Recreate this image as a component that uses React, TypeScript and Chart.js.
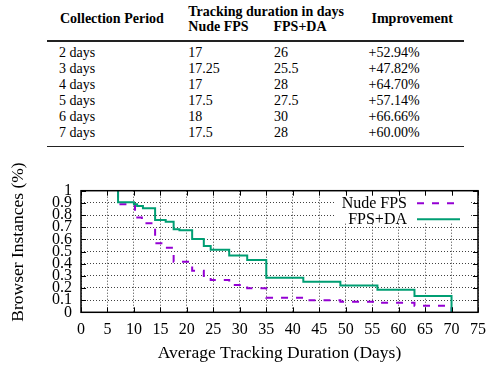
import React, { useEffect, useRef } from "react";
import { Chart, registerables } from "chart.js";

Chart.register(...registerables);

// ---- Table data ----
const periods = ["2 days", "3 days", "4 days", "5 days", "6 days", "7 days"];
const nudeFpsDays = ["17", "17.25", "17", "17.5", "18", "17.5"];
const fpsDaDays = ["26", "25.5", "28", "27.5", "30", "28"];
const improvements = ["+52.94%", "+47.82%", "+64.70%", "+57.14%", "+66.66%", "+60.00%"];

// ---- Chart data (step drop day, value after drop) ----
const daDays = [7, 7, 10, 10.6, 11.7, 14, 16, 17.5, 18.6, 21, 23.2, 24.5, 28, 31.4, 35, 42, 49, 56, 63, 70];
const daValues = [1, 0.905, 0.888, 0.874, 0.855, 0.759, 0.745, 0.683, 0.674, 0.603, 0.545, 0.515, 0.467, 0.43, 0.285, 0.252, 0.22, 0.186, 0.134, 0];
const nudeDays = [7, 7, 10.2, 11.5, 14, 15.8, 17.5, 21, 23.2, 24.5, 28, 31.4, 35, 42, 49, 56, 63, 70];
const nudeValues = [1, 0.888, 0.78, 0.732, 0.567, 0.53, 0.416, 0.342, 0.288, 0.266, 0.225, 0.197, 0.12, 0.099, 0.087, 0.079, 0.054, 0];

const xTickLabels = ["0", "5", "10", "15", "20", "25", "30", "35", "40", "45", "50", "55", "60", "65", "70", "75"];
const yTickLabels = ["0", "0.1", "0.2", "0.3", "0.4", "0.5", "0.6", "0.7", "0.8", "0.9", "1"];

const seriesNames = ["Nude FPS", "FPS+DA"];
const xTitle = "Average Tracking Duration (Days)";
const yTitle = "Browser Instances (%)";

const FONT = "'Liberation Serif', 'Times New Roman', serif";
const PURPLE = "#9400d3";
const GREEN = "#009e73";

const decorPlugin = {
  id: "decor",
  afterDraw(chart: any) {
    const { ctx, chartArea } = chart;
    const { left, right, top, bottom } = chartArea;
    ctx.save();
    // legend box (opaque)
    ctx.fillStyle = "#fff";
    ctx.fillRect(335, top + 1, 135, 72 - top);
    // legend entries
    ctx.font = `16px ${FONT}`;
    ctx.textAlign = "right";
    ctx.textBaseline = "middle";
    ctx.fillStyle = "#000";
    const order = [1, 0]; // Nude FPS first, then FPS+DA
    const ys = [53.3, 69.3];
    order.forEach((di, i) => {
      const ds = chart.data.datasets[di];
      ctx.fillText(ds.label, 407, ys[i]);
      ctx.beginPath();
      ctx.strokeStyle = ds.borderColor;
      ctx.lineWidth = ds.borderWidth;
      ctx.setLineDash(ds.borderDash || []);
      ctx.moveTo(417, ys[i]);
      ctx.lineTo(460, ys[i]);
      ctx.stroke();
    });
    ctx.setLineDash([]);
    // frame
    ctx.strokeStyle = "#000";
    ctx.lineWidth = 1.5;
    ctx.strokeRect(left, top, right - left, bottom - top);
    // inward tick marks
    ctx.lineWidth = 1;
    const xs = chart.scales.x;
    const ysc = chart.scales.y;
    ctx.beginPath();
    xs.ticks.forEach((t: any) => {
      const px = Math.round(xs.getPixelForValue(t.value)) + 0.5;
      ctx.moveTo(px, bottom);
      ctx.lineTo(px, bottom - 5);
      ctx.moveTo(px, top);
      ctx.lineTo(px, top + 5);
    });
    ysc.ticks.forEach((t: any) => {
      const py = Math.round(ysc.getPixelForValue(t.value)) + 0.5;
      ctx.moveTo(left, py);
      ctx.lineTo(left + 5, py);
      ctx.moveTo(right, py);
      ctx.lineTo(right - 5, py);
    });
    ctx.stroke();
    // y axis title
    ctx.translate(18, 92);
    ctx.rotate(-Math.PI / 2);
    ctx.font = `17.5px ${FONT}`;
    ctx.textAlign = "center";
    ctx.textBaseline = "middle";
    ctx.fillText(yTitle, 0, 0);
    ctx.restore();
  },
};

function ChartPanel() {
  const ref = useRef<HTMLCanvasElement>(null);
  useEffect(() => {
    if (!ref.current) return;
    const chart = new Chart(ref.current, {
      type: "line",
      data: {
        datasets: [
          {
            label: seriesNames[1],
            data: daDays.map((d, i) => ({ x: d, y: daValues[i] })),
            borderColor: GREEN,
            borderWidth: 2,
            stepped: "before",
            pointRadius: 0,
            fill: false,
            order: 0,
          },
          {
            label: seriesNames[0],
            data: nudeDays.map((d, i) => ({ x: d, y: nudeValues[i] })),
            borderColor: PURPLE,
            borderWidth: 2,
            borderDash: [7, 8],
            stepped: "before",
            pointRadius: 0,
            fill: false,
            order: 1,
          },
        ],
      },
      options: {
        responsive: false,
        animation: false,
        layout: { padding: { top: 40.7, right: 14, left: 0, bottom: 0 } },
        plugins: { legend: { display: false }, tooltip: { enabled: false } },
        scales: {
          x: {
            type: "linear",
            min: 0,
            max: 75,
            afterFit: (s: any) => {
              s.height = 57.7;
            },
            ticks: {
              stepSize: 5,
              autoSkip: false,
              maxRotation: 0,
              padding: 8,
              color: "#000",
              font: { family: FONT, size: 16 },
              callback: (v: any) => xTickLabels[Math.round(Number(v) / 5)] ?? "",
            },
            grid: { color: "rgba(0,0,0,0.75)", drawTicks: false, lineWidth: 1 },
            border: { display: false, dash: [1, 2] },
            title: {
              display: true,
              text: xTitle,
              color: "#000",
              font: { family: FONT, size: 17.5 },
              padding: { top: 0, bottom: 6.5 },
            },
          },
          y: {
            type: "linear",
            min: 0,
            max: 1,
            afterFit: (s: any) => {
              s.width = 81;
            },
            ticks: {
              stepSize: 0.1,
              autoSkip: false,
              padding: 9,
              color: "#000",
              font: { family: FONT, size: 16 },
              callback: (v: any) => yTickLabels[Math.round(Number(v) * 10)] ?? "",
            },
            grid: { color: "rgba(0,0,0,0.75)", drawTicks: false, lineWidth: 1 },
            border: { display: false, dash: [1, 2] },
          },
        },
      },
      plugins: [decorPlugin],
    } as any);
    return () => chart.destroy();
  }, []);
  return (
    <canvas
      ref={ref}
      width={494}
      height={220}
      style={{ position: "absolute", left: 0, top: 150, width: 494, height: 220, display: "block" }}
    />
  );
}

function Cell(props: { x: number; y: number; text: string; bold?: boolean }) {
  return (
    <div
      style={{
        position: "absolute",
        left: props.x,
        top: props.y - 8,
        lineHeight: "16px",
        fontSize: 14,
        fontWeight: props.bold ? 700 : 400,
        whiteSpace: "nowrap",
        fontFamily: FONT,
        color: "#000",
      }}
    >
      {props.text}
    </div>
  );
}

export default function App() {
  const cols = [59, 188.3, 274, 368.5];
  return (
    <div style={{ position: "absolute", left: 0, top: 0, width: 494, height: 370, background: "#fff", overflow: "hidden" }}>
      <Cell x={60} y={18.5} text="Collection Period" bold />
      <Cell x={188.3} y={11.7} text="Tracking duration in days" bold />
      <Cell x={188.3} y={27.3} text="Nude FPS" bold />
      <Cell x={273.5} y={27.3} text="FPS+DA" bold />
      <Cell x={371.5} y={19} text="Improvement" bold />
      <div style={{ position: "absolute", left: 47, top: 40.3, width: 417, height: 1.4, background: "#222" }} />
      {periods.map((p, i) => {
        const y = 52.7 + 16.1 * i;
        return (
          <React.Fragment key={p}>
            <Cell x={cols[0]} y={y} text={p} />
            <Cell x={cols[1]} y={y} text={nudeFpsDays[i]} />
            <Cell x={cols[2]} y={y} text={fpsDaDays[i]} />
            <Cell x={cols[3]} y={y} text={improvements[i]} />
          </React.Fragment>
        );
      })}
      <div style={{ position: "absolute", left: 47, top: 146, width: 417, height: 1.4, background: "#222" }} />
      <ChartPanel />
    </div>
  );
}
